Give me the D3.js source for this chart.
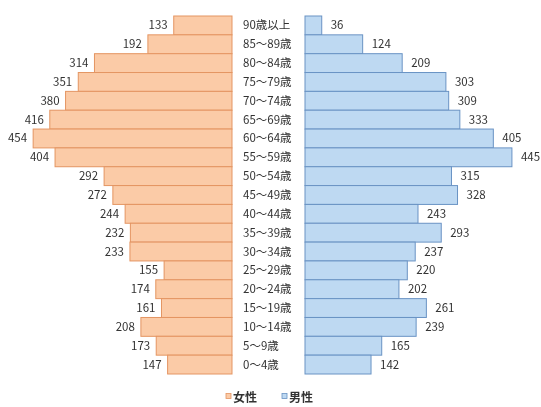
<!DOCTYPE html>
<html>
<head>
<meta charset="utf-8">
<script src="https://cdn.jsdelivr.net/npm/d3@7"></script>
<style>
  html, body { margin: 0; padding: 0; background: #fff; }
  svg { display: block; }
  text { font-family: "Noto Sans CJK JP", "Noto Sans", sans-serif; fill: #333; }
</style>
</head>
<body>
<svg id="chart" width="541" height="407"></svg>
<script>
// Age groups, oldest at the top
const ageGroups = ["90歳以上", "85～89歳", "80～84歳", "75～79歳", "70～74歳", "65～69歳",
  "60～64歳", "55～59歳", "50～54歳", "45～49歳", "40～44歳", "35～39歳", "30～34歳",
  "25～29歳", "20～24歳", "15～19歳", "10～14歳", "5～9歳", "0～4歳"];
const female = [133, 192, 314, 351, 380, 416, 454, 404, 292, 272, 244, 232, 233, 155, 174, 161, 208, 173, 147];
const male = [36, 124, 209, 303, 309, 333, 405, 445, 315, 328, 243, 293, 237, 220, 202, 261, 239, 165, 142];
const legendLabels = ["女性", "男性"];

const svg = d3.select("#chart");

const defs = svg.append("defs");
defs.append("filter").attr("id", "soft")
  .append("feGaussianBlur").attr("stdDeviation", 0.45);

const g = svg.append("g").attr("filter", "url(#soft)");

const y = d3.scaleBand().domain(ageGroups).range([16, 374]).padding(0);
const xF = d3.scaleLinear().domain([0, 500]).range([232, 13]);
const xM = d3.scaleLinear().domain([0, 500]).range([305, 537.5]);

const colors = {
  fFill: "#fbcba7", fStroke: "#e49562",
  mFill: "#bed9f2", mStroke: "#6a93c4"
};

// Female bars (left), stacked edge to edge
g.selectAll("rect.f").data(ageGroups).join("rect")
  .attr("class", "f")
  .attr("x", (d, i) => xF(female[i]))
  .attr("y", d => y(d))
  .attr("width", (d, i) => xF(0) - xF(female[i]))
  .attr("height", y.bandwidth())
  .attr("fill", colors.fFill)
  .attr("stroke", colors.fStroke)
  .attr("stroke-width", 1);

// Male bars (right)
g.selectAll("rect.m").data(ageGroups).join("rect")
  .attr("class", "m")
  .attr("x", xM(0))
  .attr("y", d => y(d))
  .attr("width", (d, i) => xM(male[i]) - xM(0))
  .attr("height", y.bandwidth())
  .attr("fill", colors.mFill)
  .attr("stroke", colors.mStroke)
  .attr("stroke-width", 1);

// Value labels
g.selectAll("text.fv").data(ageGroups).join("text")
  .attr("class", "fv")
  .attr("x", (d, i) => xF(female[i]) - 6)
  .attr("y", d => y(d) + y.bandwidth() / 2)
  .attr("dy", "0.35em")
  .attr("text-anchor", "end")
  .attr("font-size", 11.5)
  .text((d, i) => female[i]);

g.selectAll("text.mv").data(ageGroups).join("text")
  .attr("class", "mv")
  .attr("x", (d, i) => xM(male[i]) + 9)
  .attr("y", d => y(d) + y.bandwidth() / 2)
  .attr("dy", "0.35em")
  .attr("text-anchor", "start")
  .attr("font-size", 11.5)
  .text((d, i) => male[i]);

// Age group labels between the two sides
g.selectAll("text.age").data(ageGroups).join("text")
  .attr("class", "age")
  .attr("x", 243)
  .attr("y", d => y(d) + y.bandwidth() / 2)
  .attr("dy", "0.35em")
  .attr("font-size", 11.5)
  .text(d => d);

// Legend
const legend = g.append("g").attr("transform", "translate(0,398)");
const legendItems = [
  { label: legendLabels[0], x: 226, fill: colors.fFill, stroke: colors.fStroke },
  { label: legendLabels[1], x: 282, fill: colors.mFill, stroke: colors.mStroke }
];
legendItems.forEach(it => {
  legend.append("rect")
    .attr("x", it.x).attr("y", -4.5)
    .attr("width", 5).attr("height", 5)
    .attr("fill", it.fill).attr("stroke", it.stroke).attr("stroke-width", 0.8);
  legend.append("text")
    .attr("x", it.x + 7).attr("y", 0)
    .attr("dy", "0.35em")
    .attr("font-size", 12).attr("font-weight", "bold")
    .text(it.label);
});
</script>
</body>
</html>
